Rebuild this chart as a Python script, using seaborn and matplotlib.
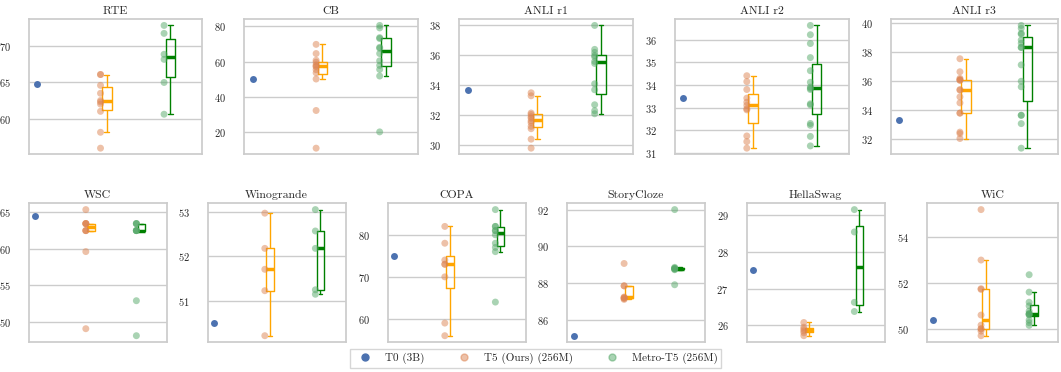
import matplotlib.pyplot as plt
import matplotlib.ticker as mticker
from matplotlib.lines import Line2D
import pandas as pd
import seaborn as sns

# --- scores ---------------------------------------------------------------
MODELS = ["T0 (3B)", "T5 (Ours) (256M)", "Metro-T5 (256M)"]

rte_t0 = 64.8
rte_t5 = [55.9, 58.1, 61.0, 62.0, 62.3, 62.5, 63.5, 64.6, 66.1, 66.1]
rte_metro = [60.6, 65.0, 68.2, 68.9, 71.8, 72.9]

cb_t0 = 50.1
cb_t5 = [11.0, 32.3, 50.1, 53.6, 55.4, 57.0, 57.4, 58.1, 59.6, 60.7, 64.5, 69.7]
cb_metro = [20.2, 51.8, 55.5, 57.8, 60.4, 64.5, 67.5, 68.0, 73.0, 73.5, 79.0, 80.4]

anli1_t0 = 33.67
anli1_t5 = [29.8, 30.4, 31.1, 31.26, 31.5, 31.62, 31.8, 31.9, 32.05, 32.15, 33.3, 33.5]
anli1_metro = [32.1, 32.3, 32.7, 33.7, 34.1, 35.46, 35.6, 35.9, 36.0, 36.2, 36.4, 38.0]

anli2_t0 = 33.42
anli2_t5 = [31.21, 31.5, 31.75, 32.9, 32.95, 33.1, 33.24, 33.42, 33.8, 34.15, 34.41]
anli2_metro = [31.31, 31.73, 32.22, 32.3, 33.12, 33.17, 33.8, 33.85, 33.91, 34.12,
               34.63, 35.21, 35.83, 36.22, 36.63]

anli3_t0 = 33.33
anli3_t5 = [32.06, 32.4, 32.5, 33.8, 33.8, 34.5, 34.91, 35.37, 35.41, 36.05, 36.05,
            36.1, 36.18, 36.63, 37.52]
anli3_metro = [31.4, 33.08, 33.65, 33.65, 35.6, 35.98, 37.1, 38.29, 38.3, 38.58, 38.8,
               39.2, 39.26, 39.6, 39.8]

wsc_t0 = 64.45
wsc_t5 = [49.04, 59.62, 62.5, 62.5, 62.5, 63.46, 63.46, 63.46, 63.46, 65.38]
wsc_metro = [48.08, 52.88, 62.5, 62.5, 62.5, 62.5, 63.46, 63.46, 63.46]

wino_t0 = 50.51
wino_t5 = [50.22, 51.23, 51.71, 52.18, 52.97]
wino_metro = [51.15, 51.25, 52.18, 52.57, 53.05]

copa_t0 = 75
copa_t5 = [56, 59, 70, 73, 73, 74, 78, 82]
copa_metro = [64, 76, 77, 78, 80, 81, 81, 82, 82, 86]

story_t0 = 85.12
story_t5 = [87.1, 87.15, 87.17, 87.2, 87.23, 87.84, 87.84, 89.06]
story_metro = [87.9, 88.72, 88.75, 88.77, 88.8, 88.8, 88.85, 92.0]

hella_t0 = 27.52
hella_t5 = [25.72, 25.8, 25.85, 25.9, 25.95, 26.08]
hella_metro = [26.38, 26.63, 28.55, 29.16]

wic_t0 = 50.38
wic_t5 = [49.7, 49.9, 50.0, 50.0, 50.16, 50.6, 51.72, 51.75, 53.0, 55.2]
wic_metro = [50.15, 50.27, 50.38, 50.6, 50.63, 50.66, 50.66, 50.77, 51.0, 51.16,
             51.6, 52.36]

top_tasks = ["RTE", "CB", "ANLI r1", "ANLI r2", "ANLI r3"]
top_data = [(rte_t0, rte_t5, rte_metro), (cb_t0, cb_t5, cb_metro),
            (anli1_t0, anli1_t5, anli1_metro), (anli2_t0, anli2_t5, anli2_metro),
            (anli3_t0, anli3_t5, anli3_metro)]
top_steps = [5, 20, 2, 1, 2]

bottom_tasks = ["WSC", "Winogrande", "COPA", "StoryCloze", "HellaSwag", "WiC"]
bottom_data = [(wsc_t0, wsc_t5, wsc_metro), (wino_t0, wino_t5, wino_metro),
               (copa_t0, copa_t5, copa_metro), (story_t0, story_t5, story_metro),
               (hella_t0, hella_t5, hella_metro), (wic_t0, wic_t5, wic_metro)]
bottom_steps = [5, 1, 10, 2, 1, 2]

# --- style ----------------------------------------------------------------
sns.set_theme(style="whitegrid")
plt.rcParams["font.family"] = ["cmr10", "DejaVu Serif"]
plt.rcParams["axes.formatter.use_mathtext"] = True
plt.rcParams["ytick.major.pad"] = 7

deep = sns.color_palette("deep")
dot_colors = {MODELS[0]: deep[0], MODELS[1]: deep[1], MODELS[2]: deep[2]}
box_colors = {MODELS[1]: "orange", MODELS[2]: "green"}


def draw(ax, title, t0, t5, metro, step):
    df = pd.DataFrame({
        "pos": [0] + [1] * len(t5) + [2] * len(metro),
        "score": [t0] + t5 + metro,
        "model": [MODELS[0]] + [MODELS[1]] * len(t5) + [MODELS[2]] * len(metro),
    })
    ft = df[df["pos"] > 0].copy()
    ft["bpos"] = ft["pos"] + 0.1

    # T0 : un seul point plein
    sns.stripplot(data=df[df["pos"] == 0], x="pos", y="score", native_scale=True,
                  jitter=False, color=dot_colors[MODELS[0]], size=5, ax=ax)
    # les checkpoints des deux modèles fine-tunés
    sns.stripplot(data=ft, x="pos", y="score", hue="model", native_scale=True,
                  jitter=False, palette=dot_colors, size=5, alpha=0.5,
                  legend=False, ax=ax)
    # boxplot décalé à droite des points
    sns.boxplot(data=ft, x="bpos", y="score", hue="model", native_scale=True,
                dodge=False, width=0.15, fill=False, showfliers=False,
                palette=box_colors, linewidth=1,
                medianprops=dict(linewidth=2.5), legend=False, ax=ax)

    ax.set_xlim(-0.13, 2.6)
    ax.set_xticks([])
    ax.set_xlabel("")
    ax.set_ylabel("")
    ax.yaxis.set_major_locator(mticker.MultipleLocator(step))
    ax.tick_params(axis="y", labelsize=7.5)
    ax.set_title(title, fontsize=8.5, pad=4)


W, H = 1061, 372
fig = plt.figure(figsize=(W / 100, H / 100), dpi=100)

top_left = [28.7, 244.3, 459.3, 675, 890.7]
for i, (name, (t0, t5, metro), step) in enumerate(zip(top_tasks, top_data, top_steps)):
    width = min(173.5, 1058 - top_left[i])
    ax = fig.add_axes([top_left[i] / W, 1 - 154.3 / H, width / W, 135 / H])
    draw(ax, name, t0, t5, metro, step)

bottom_left = [28.7, 207.7, 387.7, 567, 746.7, 926.7]
for i, (name, (t0, t5, metro), step) in enumerate(zip(bottom_tasks, bottom_data, bottom_steps)):
    width = min(138, 1058 - bottom_left[i])
    ax = fig.add_axes([bottom_left[i] / W, 1 - 342 / H, width / W, 138.7 / H])
    draw(ax, name, t0, t5, metro, step)

handles = [
    Line2D([], [], marker="o", linestyle="", color=deep[0], markersize=5),
    Line2D([], [], marker="o", linestyle="", color=deep[1], alpha=0.5, markersize=5),
    Line2D([], [], marker="o", linestyle="", color=deep[2], alpha=0.5, markersize=5),
]
fig.legend(handles, MODELS, loc="lower center", bbox_to_anchor=(0.505, -0.005),
           ncol=3, fontsize=8, frameon=True, borderpad=0.35, columnspacing=2.5,
           handletextpad=0.8, fancybox=False, edgecolor="0.8")

plt.savefig("out.png", dpi=100)
